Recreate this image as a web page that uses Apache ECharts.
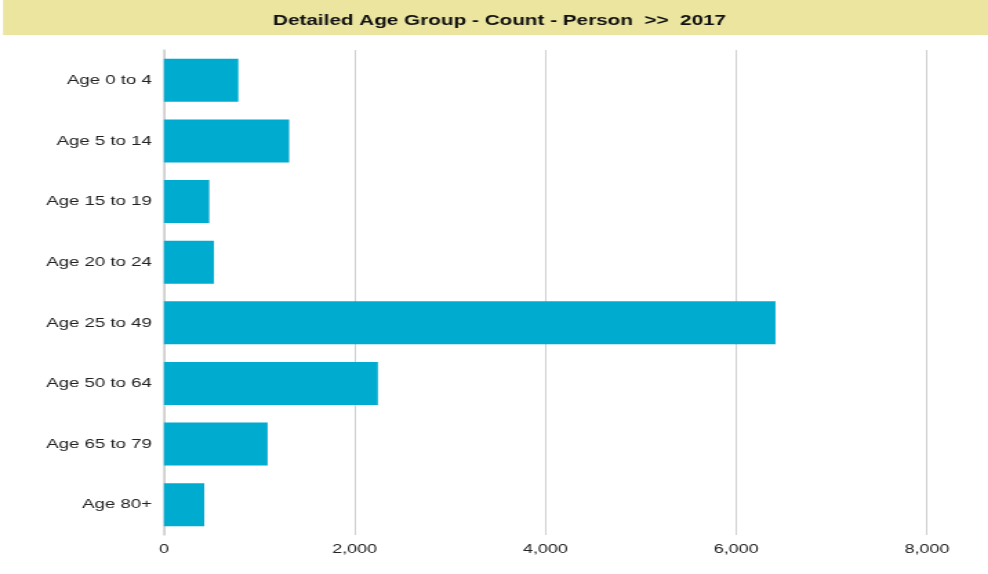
<!DOCTYPE html>
<html>
<head>
<meta charset="utf-8">
<script src="https://cdn.jsdelivr.net/npm/echarts@6/dist/echarts.min.js"></script>
<style>
  html, body { margin: 0; padding: 0; background: #fff; overflow: hidden; }
  /* the reference is stretched sideways, so the chart is drawn narrow and widened */
  #main { width: 716px; height: 574px; transform: scaleX(1.38); transform-origin: 0 0; }
</style>
</head>
<body>
<div id="main"></div>
<script>
var categories = ['Age 0 to 4', 'Age 5 to 14', 'Age 15 to 19', 'Age 20 to 24', 'Age 25 to 49', 'Age 50 to 64', 'Age 65 to 79', 'Age 80+'];
var counts = [780, 1313, 475, 524, 6412, 2243, 1087, 423];
var xTicks = [0, 2000, 4000, 6000, 8000];

var chart = echarts.init(document.getElementById('main'));
var option = {
    animation: false,
    textStyle: { fontFamily: 'Liberation Sans, Arial, sans-serif' },
    graphic: [{
        type: 'rect',
        z: -1,
        shape: { x: 2.2, y: 0, width: 716, height: 35 },
        style: { fill: '#ebe5a0' }
    }],
    title: {
        text: 'Detailed Age Group - Count - Person  >>  2017',
        left: 357,
        textAlign: 'center',
        top: 8,
        textStyle: { fontSize: 15, fontWeight: 'bold', color: '#111' }
    },
    grid: {
        left: 118.8,
        right: 44.3,
        top: 50,
        bottom: 39,
        containLabel: false
    },
    xAxis: {
        type: 'value',
        min: xTicks[0],
        max: xTicks[xTicks.length - 1],
        interval: 2000,
        axisLine: { show: false },
        axisTick: { show: false },
        splitLine: { show: true, lineStyle: { color: '#cfcfcf', width: 1 } },
        axisLabel: {
            margin: 8,
            fontSize: 13,
            color: '#222',
            formatter: function (v) { return v.toLocaleString('en-US'); }
        }
    },
    yAxis: {
        type: 'category',
        inverse: true,
        data: categories,
        axisLine: { show: true, lineStyle: { color: '#cfcfcf', width: 1.5 } },
        axisTick: { show: false },
        axisLabel: { margin: 8.7, fontSize: 13.5, color: '#222' }
    },
    series: [{
        type: 'bar',
        data: counts,
        barCategoryGap: '29%',
        itemStyle: { color: '#00abd0' }
    }]
};
chart.setOption(option);
</script>
</body>
</html>
